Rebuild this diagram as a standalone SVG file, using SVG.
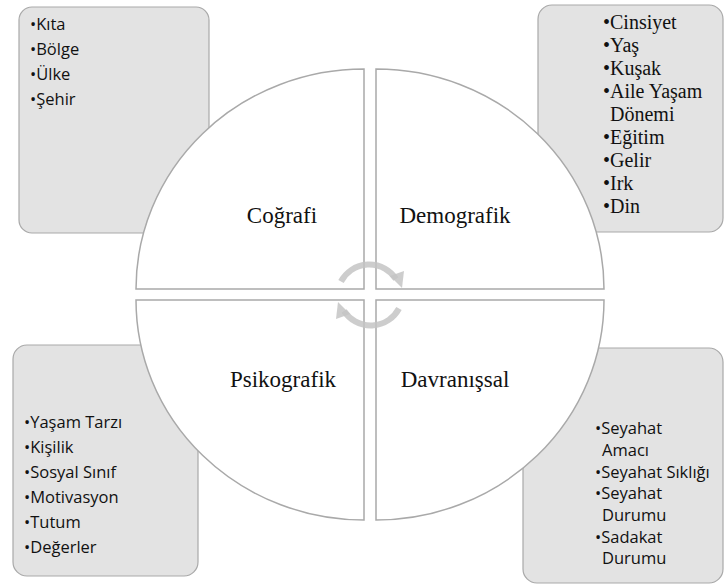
<svg xmlns="http://www.w3.org/2000/svg" width="725" height="585" viewBox="0 0 725 585">
<defs>
<style>
.box{fill:#e3e3e3;stroke:#a9a9a9;stroke-width:1.2}
.quad{fill:#ffffff;stroke:#a9a9a9;stroke-width:1.5}
.sans{font-family:"Open Sans","Noto Sans",sans-serif;font-size:16.5px;fill:#111}
.serif{font-family:"Liberation Serif","Times New Roman",serif;font-size:20px;fill:#111}
.label{font-family:"Liberation Serif","Times New Roman",serif;font-size:23px;fill:#111;text-anchor:middle}
.arc{fill:none;stroke:#c4c4c4;stroke-width:6;opacity:0.85}
.head{fill:#c4c4c4;opacity:0.85}
</style>
</defs>
<rect width="725" height="585" fill="#ffffff"/>
<g id="box-cografi">
<rect class="box" x="19" y="7" width="190" height="226" rx="13"/>
<text class="sans" x="30" y="30">•Kıta</text>
<text class="sans" x="30" y="55">•Bölge</text>
<text class="sans" x="30" y="80">•Ülke</text>
<text class="sans" x="30" y="105">•Şehir</text>
</g>
<g id="box-demografik">
<rect class="box" x="538" y="5" width="185" height="227" rx="14"/>
<text class="serif" x="603" y="29">•Cinsiyet</text>
<text class="serif" x="603" y="52">•Yaş</text>
<text class="serif" x="603" y="75">•Kuşak</text>
<text class="serif" x="603" y="98">•Aile Yaşam</text>
<text class="serif" x="610" y="121">Dönemi</text>
<text class="serif" x="603" y="144">•Eğitim</text>
<text class="serif" x="603" y="167">•Gelir</text>
<text class="serif" x="603" y="190">•Irk</text>
<text class="serif" x="603" y="213">•Din</text>
</g>
<g id="box-psikografik">
<rect class="box" x="13" y="345" width="185" height="231" rx="14"/>
<text class="sans" x="24" y="428">•Yaşam Tarzı</text>
<text class="sans" x="24" y="453">•Kişilik</text>
<text class="sans" x="24" y="478">•Sosyal Sınıf</text>
<text class="sans" x="24" y="503">•Motivasyon</text>
<text class="sans" x="24" y="528">•Tutum</text>
<text class="sans" x="24" y="553">•Değerler</text>
</g>
<g id="box-davranissal">
<rect class="box" x="523" y="348" width="200" height="235" rx="14"/>
<text class="sans" x="595" y="434">•Seyahat</text>
<text class="sans" x="602" y="456">Amacı</text>
<text class="sans" x="595" y="478">•Seyahat Sıklığı</text>
<text class="sans" x="595" y="499">•Seyahat</text>
<text class="sans" x="602" y="521">Durumu</text>
<text class="sans" x="595" y="543">•Sadakat</text>
<text class="sans" x="602" y="564">Durumu</text>
</g>
<g id="quad-cografi">
<path class="quad" d="M364,289 L136,289 A228,220 0 0 1 364,69 Z"/>
<text class="label" x="282" y="223">Coğrafi</text>
</g>
<g id="quad-demografik">
<path class="quad" d="M376,289 L376,69 A228,220 0 0 1 604,289 Z"/>
<text class="label" x="455" y="223">Demografik</text>
</g>
<g id="quad-psikografik">
<path class="quad" d="M364,300 L364,520 A228,220 0 0 1 136,300 Z"/>
<text class="label" x="283" y="387">Psikografik</text>
</g>
<g id="quad-davranissal">
<path class="quad" d="M376,300 L604,300 A228,220 0 0 1 376,520 Z"/>
<text class="label" x="455" y="387">Davranışsal</text>
</g>
<g id="connectors">
<path class="arc" d="M341,281.5 A32,32 0 0 1 396,279"/>
<polygon class="head" points="390,276 404,271 402,288"/>
<path class="arc" d="M399,308.5 A32,32 0 0 1 344,311"/>
<polygon class="head" points="350,314 336,319 338,302"/>
</g>
</svg>
